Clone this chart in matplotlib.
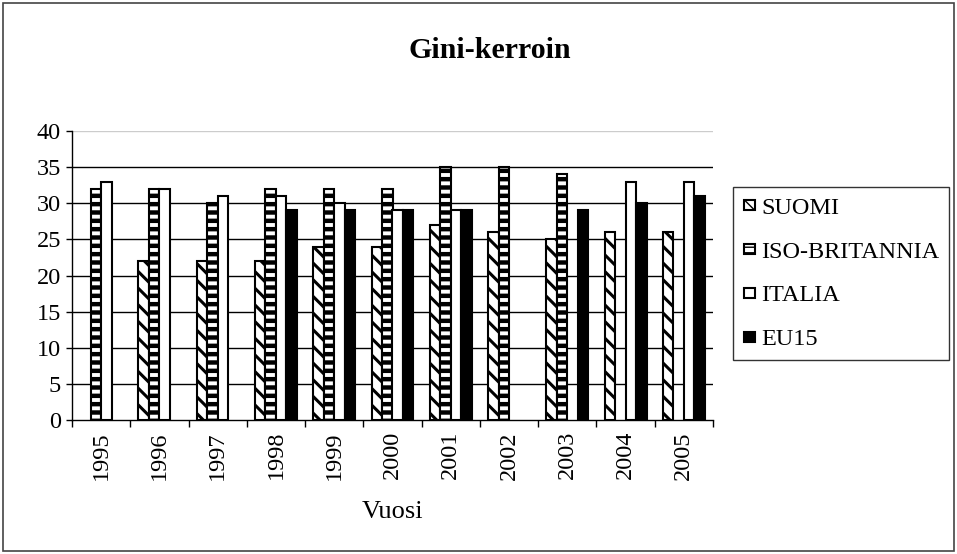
import numpy as np
import matplotlib
matplotlib.use("Agg")
import matplotlib.pyplot as plt
from matplotlib.patches import Rectangle
from matplotlib.legend_handler import HandlerPatch

years = ["1995", "1996", "1997", "1998", "1999", "2000", "2001", "2002", "2003", "2004", "2005"]
nan = np.nan
suomi = [nan, 22, 22, 22, 24, 24, 27, 26, 25, 26, 26]
iso_britannia = [32, 32, 30, 32, 32, 32, 35, 35, 34, nan, nan]
italia = [33, 32, 31, 31, 30, 29, 29, nan, nan, 33, 33]
eu15 = [nan, nan, nan, 29, 29, 29, 29, nan, 29, 30, 31]
series_names = ["SUOMI", "ISO-BRITANNIA", "ITALIA", "EU15"]
yticks = [0, 5, 10, 15, 20, 25, 30, 35, 40]

plt.rcParams['font.family'] = ['Liberation Serif', 'DejaVu Serif']

W, H = 957, 554
fig = plt.figure(figsize=(W / 100, H / 100), dpi=100)
fig.patches.append(Rectangle((3 / W, 3 / H), 951 / W, 548 / H, transform=fig.transFigure,
                             fill=False, ec='#444444', lw=1.2))

L, R, T, B = 72, 713, 131, 420
ax = fig.add_axes([L / W, 1 - B / H, (R - L) / W, (B - T) / H])

x = np.arange(len(years))
bw = 0.18
styles = [
    dict(facecolor='white', edgecolor='black', hatch='\\\\', hlw=2.2),
    dict(facecolor='white', edgecolor='black', hatch='--', hlw=3.2),
    dict(facecolor='white', edgecolor='black', hatch='', hlw=1.0),
    dict(facecolor='black', edgecolor='black', hatch='', hlw=1.0),
]
data = [suomi, iso_britannia, italia, eu15]
handles = []
for i, (vals, st) in enumerate(zip(data, styles)):
    vals = np.array(vals, dtype=float)
    mask = ~np.isnan(vals)
    with plt.rc_context({'hatch.linewidth': st['hlw']}):
        ax.bar(x[mask] + (i - 1.5) * bw, vals[mask], width=bw,
               facecolor=st['facecolor'], edgecolor=st['edgecolor'],
               hatch=st['hatch'] or None, linewidth=1.5, zorder=3)
    with plt.rc_context({'hatch.linewidth': min(st['hlw'], 2.0)}):
        handles.append(Rectangle((0, 0), 1, 1, facecolor=st['facecolor'],
                                 edgecolor=st['edgecolor'],
                                 hatch=(st['hatch'][0] * 3) if st['hatch'] else None,
                                 linewidth=1.5))

ax.set_xlim(-0.5, len(years) - 0.5)
ax.set_ylim(0, 40)
ax.set_yticks(yticks)
ax.set_yticklabels([str(v) for v in yticks], fontsize=17.5)
for v in yticks[1:-1]:
    ax.axhline(v, color='black', lw=1.0, zorder=1)
ax.axhline(40, color='#cccccc', lw=1.0, zorder=1)

for s in ['top', 'right']:
    ax.spines[s].set_visible(False)
ax.spines['left'].set_linewidth(1.0)
ax.spines['bottom'].set_linewidth(1.0)
ax.tick_params(axis='y', direction='out', length=4, width=1, pad=4)

ax.set_xticks(np.arange(-0.5, len(years), 1.0))
ax.set_xticklabels([])
ax.tick_params(axis='x', which='major', direction='out', length=5, width=1)
ax.set_xticks(x, minor=True)
ax.set_xticklabels(years, minor=True, rotation=90, fontsize=17.5)
ax.tick_params(axis='x', which='minor', length=0, pad=8)

fig.text((L + R) / 2 / W, 1 - 512 / H, "Vuosi", ha='center', va='center', fontsize=19)
fig.text(490 / W, 1 - 50 / H, "Gini-kerroin", ha='center', va='center', fontsize=21.5, fontweight='bold')


def square(legend, orig_handle, xdescent, ydescent, width, height, fontsize):
    s = 7.5  # points
    return Rectangle((-xdescent + (width - s) / 2, -ydescent + (height - s) / 2), s, s)


leg = fig.legend(handles=handles, labels=series_names, loc='center left',
                 bbox_to_anchor=(733 / W, 1 - 273.5 / H), fontsize=17.5, frameon=True,
                 fancybox=False, edgecolor='black', handlelength=0.55, handleheight=0.7,
                 handletextpad=0.2, labelspacing=0.9, borderpad=0.4, borderaxespad=0,
                 handler_map={Rectangle: HandlerPatch(patch_func=square)})
leg.get_frame().set_linewidth(1.0)

fig.savefig("out.png", dpi=100)
